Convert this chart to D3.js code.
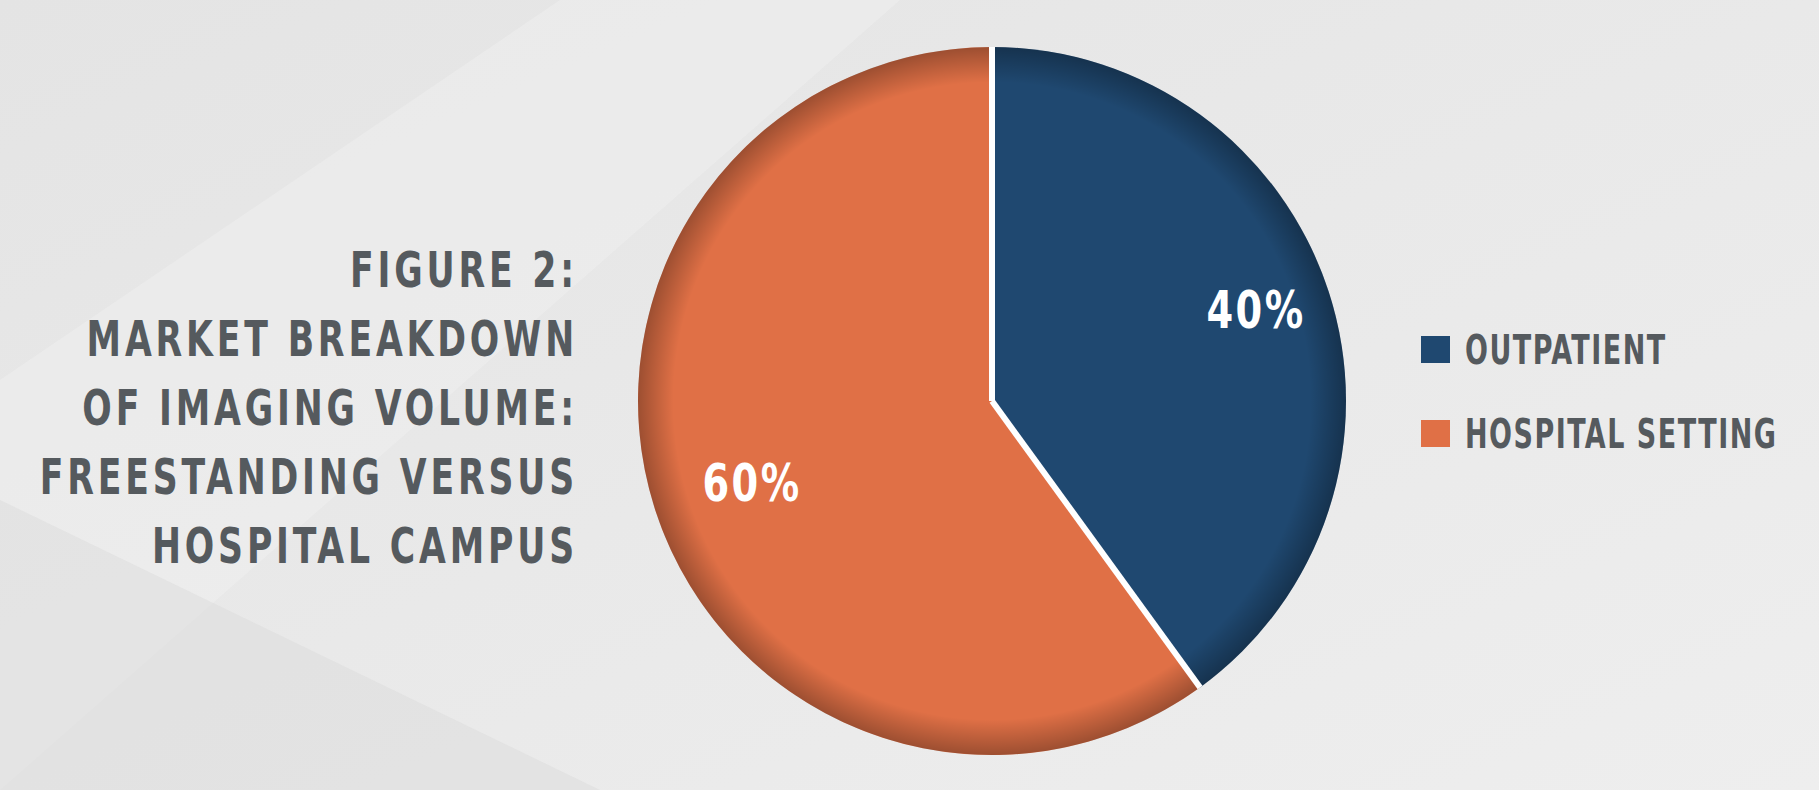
<!DOCTYPE html><html><head><meta charset="utf-8"><script src="https://cdn.jsdelivr.net/npm/d3@7"></script>
<style>body{margin:0;background:#e9e9e9;}</style></head><body><svg id="c" width="1819" height="790"></svg>
<script>
const categories=["OUTPATIENT","HOSPITAL SETTING"];
const values=[40,60];
const colors=["#1f4870","#e07046"];
const titleLines=["FIGURE 2:","MARKET BREAKDOWN","OF IMAGING VOLUME:","FREESTANDING VERSUS","HOSPITAL CAMPUS"];
const svg=d3.select("#c");
const defs=svg.append("defs");
const bg=defs.append("linearGradient").attr("id","bg").attr("x1",0).attr("y1",0).attr("x2",1).attr("y2",1);
bg.append("stop").attr("offset",0).attr("stop-color","#e4e4e4");bg.append("stop").attr("offset",1).attr("stop-color","#eeeeee");
svg.append("rect").attr("width",1819).attr("height",790).attr("fill","url(#bg)");
svg.append("path").attr("d","M0,380 L560,0 L900,0 L0,790Z").attr("fill","#f2f2f2").attr("opacity",0.4);
svg.append("path").attr("d","M0,500 L600,790 L0,790Z").attr("fill","#dcdcdc").attr("opacity",0.5);
const cx=992,cy=401,r=354;
const rg=defs.append("radialGradient").attr("id","sh").attr("cx",0.5).attr("cy",0.5).attr("r",0.5);
rg.append("stop").attr("offset",0.9).attr("stop-color","#000").attr("stop-opacity",0);
rg.append("stop").attr("offset",1).attr("stop-color","#000").attr("stop-opacity",0.3);
const pie=d3.pie().sort(null)(values);
const arc=d3.arc().innerRadius(0).outerRadius(r);
const g=svg.append("g").attr("transform",`translate(${cx},${cy})`);
g.selectAll("path.s").data(pie).join("path").attr("class","s").attr("d",arc).attr("fill",(d,i)=>colors[i]);
g.append("circle").attr("r",r).attr("fill","url(#sh)");
g.selectAll("line.sep").data(pie).join("line").attr("class","sep")
 .attr("x1",0).attr("y1",0).attr("x2",d=>r*Math.sin(d.startAngle)).attr("y2",d=>-r*Math.cos(d.startAngle))
 .attr("stroke","#fff").attr("stroke-width",6);
const lblPos=[[264,-73],[-240,100]];
g.selectAll("text.p").data(pie).join("text").attr("x",(d,i)=>lblPos[i][0]).attr("y",(d,i)=>lblPos[i][1])
 .attr("text-anchor","middle").attr("fill","#fff").attr("font-family","DejaVu Sans Condensed, DejaVu Sans").attr("font-weight","bold")
 .attr("font-size",52).attr("letter-spacing",3)
 .attr("transform",(d,i)=>`translate(${lblPos[i][0]},0) scale(0.82,1) translate(${-lblPos[i][0]},0)`).text(d=>d.data+"%");
const leg=svg.append("g");
categories.forEach((c,i)=>{
 leg.append("rect").attr("x",1421).attr("y",336+i*84).attr("width",29).attr("height",27).attr("fill",colors[i]);
 leg.append("text").attr("x",1465).attr("y",364+i*84).attr("fill","#555a5e").attr("font-family","DejaVu Sans Condensed, DejaVu Sans")
  .attr("font-weight","bold").attr("font-size",40).attr("letter-spacing",2).attr("transform",`translate(${1465},0) scale(0.75,1) translate(${-1465},0)`).text(c);
});
titleLines.forEach((t,i)=>{
 svg.append("text").attr("x",578).attr("y",287+i*69).attr("text-anchor","end").attr("fill","#555a5e")
  .attr("font-family","DejaVu Sans Condensed, DejaVu Sans").attr("font-weight","bold").attr("font-size",50).attr("letter-spacing",5)
  .attr("transform",`translate(578,0) scale(0.77,1) translate(-578,0)`).text(t);
});
</script></body></html>
